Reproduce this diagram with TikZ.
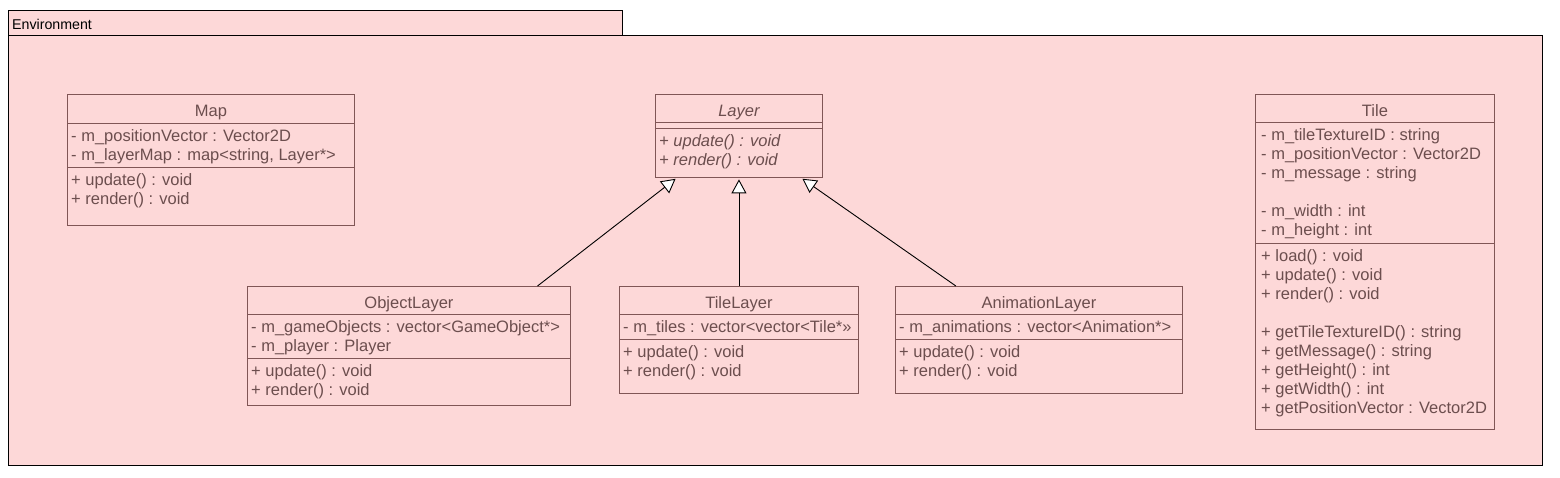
\documentclass[tikz,border=0pt]{standalone}
\usepackage{fontspec}
\setmainfont{Liberation Sans}
\usetikzlibrary{positioning,arrows.meta}

\definecolor{umlfill}{RGB}{253,216,216}
\definecolor{umlborder}{RGB}{128,86,86}
\definecolor{umltext}{RGB}{108,78,78}
\newcommand{\memstrut}{\rule{0pt}{14pt}}

\tikzset{pkgbox/.style={draw=black,fill=umlfill,line width=1pt,inner sep=0pt,anchor=north west},
         classbox/.style={draw=umlborder,fill=umlfill,line width=0.9pt,inner sep=0pt,anchor=north west},
         classname/.style={anchor=base,inner sep=0pt,text=umltext,font=\fontsize{16.5}{19}\selectfont},
         members/.style={align=left,inner sep=0pt,text=umltext,font=\fontsize{16.5}{19}\selectfont},
         compline/.style={draw=umlborder,line width=0.9pt},
         extends/.style={-{Triangle[fill=white,length=14pt,width=15pt]},line width=0.9pt,shorten >=1.5pt}}

\begin{document}
\begin{tikzpicture}[x=1pt,y=-1pt]
\useasboundingbox (0,0) rectangle (1560,478);

% package frame
\node[pkgbox, minimum width=1534, minimum height=430] (envbody) at (8,35) {};
\node[pkgbox, minimum width=614, minimum height=25] (envtab) at (8,10) {};
\node[anchor=base west,inner sep=0pt,font=\fontsize{14.2}{16}\selectfont] (envname)
    at ([xshift=4pt,yshift=-19.5pt]envtab.north west) {Environment};

% Map
\node[classbox, minimum width=287, minimum height=131] (map) at (67,94) {};
\coordinate (map-a) at ([yshift=-29pt]map.north west);
\coordinate (map-b) at ([yshift=-73pt]map.north west);
\draw[compline] (map-a) -- (map-a -| map.east);
\draw[compline] (map-b) -- (map-b -| map.east);
\node[classname] (mapname) at ([yshift=-22.5pt]map.north) {Map};
\node[members, below right=4.5pt and 4pt of map-a] (mapattr)
    {\memstrut- m\_positionVector : Vector2D\\- m\_layerMap : map<string, Layer*>};
\node[members, below right=4.5pt and 4pt of map-b] (mapops)
    {\memstrut+ update() : void\\+ render() : void};

% Layer
\node[classbox, minimum width=167, minimum height=83] (layer) at (655,94) {};
\coordinate (layer-a) at ([yshift=-28pt]layer.north west);
\coordinate (layer-b) at ([yshift=-34pt]layer.north west);
\draw[compline] (layer-a) -- (layer-a -| layer.east);
\draw[compline] (layer-b) -- (layer-b -| layer.east);
\node[classname, font=\fontsize{16.5}{19}\selectfont\itshape] (layername) at ([yshift=-22.5pt]layer.north) {Layer};
\node[members, font=\fontsize{16.5}{19}\selectfont\itshape, below right=4.5pt and 4pt of layer-b] (layerops)
    {\memstrut+ update() : void\\+ render() : void};

% Tile
\node[classbox, minimum width=239, minimum height=335] (tile) at (1255,94) {};
\coordinate (tile-a) at ([yshift=-28pt]tile.north west);
\coordinate (tile-b) at ([yshift=-149pt]tile.north west);
\draw[compline] (tile-a) -- (tile-a -| tile.east);
\draw[compline] (tile-b) -- (tile-b -| tile.east);
\node[classname] (tilename) at ([yshift=-22.5pt]tile.north) {Tile};
\node[members, below right=4.5pt and 6pt of tile-a] (tileattr)
    {\memstrut- m\_tileTextureID : string\\- m\_positionVector : Vector2D\\- m\_message : string\\[19pt]
     - m\_width : int\\- m\_height : int};
\node[members, below right=4.5pt and 6pt of tile-b] (tileops)
    {\memstrut+ load() : void\\+ update() : void\\+ render() : void\\[19pt]
     + getTileTextureID() : string\\+ getMessage() : string\\+ getHeight() : int\\+ getWidth() : int\\
     + getPositionVector : Vector2D};

% ObjectLayer
\node[classbox, minimum width=323, minimum height=119] (objlayer) at (247,286) {};
\coordinate (objlayer-a) at ([yshift=-28pt]objlayer.north west);
\coordinate (objlayer-b) at ([yshift=-72pt]objlayer.north west);
\draw[compline] (objlayer-a) -- (objlayer-a -| objlayer.east);
\draw[compline] (objlayer-b) -- (objlayer-b -| objlayer.east);
\node[classname] (objlayername) at ([yshift=-22.5pt]objlayer.north) {ObjectLayer};
\node[members, below right=4.5pt and 4pt of objlayer-a] (objlayerattr)
    {\memstrut- m\_gameObjects : vector<GameObject*>\\- m\_player : Player};
\node[members, below right=4.5pt and 4pt of objlayer-b] (objlayerops)
    {\memstrut+ update() : void\\+ render() : void};

% TileLayer
\node[classbox, minimum width=239, minimum height=107] (tilelayer) at (619,286) {};
\coordinate (tilelayer-a) at ([yshift=-28pt]tilelayer.north west);
\coordinate (tilelayer-b) at ([yshift=-53pt]tilelayer.north west);
\draw[compline] (tilelayer-a) -- (tilelayer-a -| tilelayer.east);
\draw[compline] (tilelayer-b) -- (tilelayer-b -| tilelayer.east);
\node[classname] (tilelayername) at ([yshift=-22.5pt]tilelayer.north) {TileLayer};
\node[members, below right=4.5pt and 4pt of tilelayer-a] (tilelayerattr)
    {\memstrut- m\_tiles : vector<vector<Tile*»};
\node[members, below right=4.5pt and 4pt of tilelayer-b] (tilelayerops)
    {\memstrut+ update() : void\\+ render() : void};

% AnimationLayer
\node[classbox, minimum width=287, minimum height=107] (animlayer) at (895,286) {};
\coordinate (animlayer-a) at ([yshift=-28pt]animlayer.north west);
\coordinate (animlayer-b) at ([yshift=-53pt]animlayer.north west);
\draw[compline] (animlayer-a) -- (animlayer-a -| animlayer.east);
\draw[compline] (animlayer-b) -- (animlayer-b -| animlayer.east);
\node[classname] (animlayername) at ([yshift=-22.5pt]animlayer.north) {AnimationLayer};
\node[members, below right=4.5pt and 4pt of animlayer-a] (animlayerattr)
    {\memstrut- m\_animations : vector<Animation*>};
\node[members, below right=4.5pt and 4pt of animlayer-b] (animlayerops)
    {\memstrut+ update() : void\\+ render() : void};

% generalisation
\draw[extends] (objlayer.25.2) -- (layer.214.5);
\draw[extends] (tilelayer.north) -- (layer.south);
\draw[extends] (animlayer.147) -- (layer.326);

\end{tikzpicture}
\end{document}
